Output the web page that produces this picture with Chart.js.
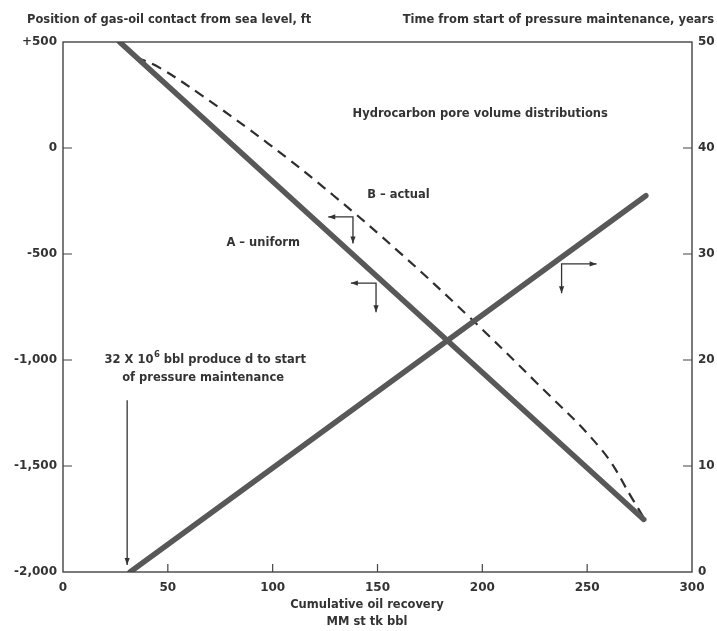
<!DOCTYPE html>
<html><head><meta charset="utf-8">
<script src="https://cdn.jsdelivr.net/npm/chart.js@4"></script>
<style>html,body{margin:0;padding:0;background:#fff}#wrap{width:717px;height:631px}</style>
</head><body><div id="wrap"><canvas id="c" width="717" height="631"></canvas></div>
<script>
// ---- data ----
const recoveryA = [27, 277];
const contactA  = [500, -1752];
const recoveryB = [35, 46, 66, 98, 129, 161, 193, 225, 257, 272, 277];
const contactB  = [428, 379, 249, 20, -224, -497, -790, -1099, -1425, -1662, -1745];
const recoveryT = [32, 278];
const timeT     = [0, 35.5];
const xTicks = [0, 50, 100, 150, 200, 250, 300];
const leftTicks = [500, 0, -500, -1000, -1500, -2000];
const leftTickLabels = ['+500', '0', '-500', '-1,000', '-1,500', '-2,000'];
const rightTicks = [0, 10, 20, 30, 40, 50];

const FONT = "'DejaVu Sans', 'Noto Sans', sans-serif";
const TXT = "bold 11.5px " + FONT;
const INK = '#333333';

function pts(xs, ys){ return xs.map((x,i)=>({x:x, y:ys[i]})); }

// annotation texts positioned in data units (left axis)
const notes = [
  {text:'Hydrocarbon pore volume distributions', x:199, y:160, align:'center'},
  {text:'B \u2013 actual', x:160, y:-222, align:'center'},
  {text:'A \u2013 uniform', x:95.5, y:-448, align:'center'},
  {text:'of pressure maintenance', x:28.2, y:-1085, align:'left'}
];
const cornerArrows = [ // corner, horizontal end, vertical end
  {cx:138.3, cy:-325, hx:126.5, vy:-450},
  {cx:149.3, cy:-637, hx:137.3, vy:-775},
  {cx:237.8, cy:-547, hx:254.5, vy:-685}
];
const downArrow = {x:30.6, y0:-1190, y1:-1967};

function arrowHead(ctx, x, y, dir){
  ctx.beginPath();
  const L=7, W=2.6;
  if(dir==='left'){ctx.moveTo(x,y);ctx.lineTo(x+L,y-W);ctx.lineTo(x+L,y+W);}
  if(dir==='right'){ctx.moveTo(x,y);ctx.lineTo(x-L,y-W);ctx.lineTo(x-L,y+W);}
  if(dir==='down'){ctx.moveTo(x,y);ctx.lineTo(x-W,y-L);ctx.lineTo(x+W,y-L);}
  ctx.closePath(); ctx.fill();
}

const decor = {
  id:'decor',
  afterDraw(chart){
    const {ctx, chartArea:a, scales} = chart;
    const xs = scales.x, ys = scales.y, y2 = scales.y2;
    ctx.save();
    ctx.strokeStyle = '#444'; ctx.fillStyle = INK; ctx.lineWidth = 1.4;
    ctx.strokeRect(a.left, a.top, a.right-a.left, a.bottom-a.top);
    ctx.lineWidth = 1.2;
    ctx.beginPath();
    xTicks.forEach(v=>{const p=xs.getPixelForValue(v); if(v>0&&v<300){ctx.moveTo(p,a.bottom);ctx.lineTo(p,a.bottom-8);}});
    leftTicks.forEach(v=>{const p=ys.getPixelForValue(v); if(v<500&&v>-2000){ctx.moveTo(a.left,p);ctx.lineTo(a.left+9,p);}});
    rightTicks.forEach(v=>{const p=y2.getPixelForValue(v); if(v>0&&v<50){ctx.moveTo(a.right,p);ctx.lineTo(a.right-9,p);}});
    ctx.stroke();
    ctx.textBaseline='middle';
    ctx.font = TXT;
    ctx.textAlign='left'; ctx.fillText('Position of gas-oil contact from sea level, ft', 27, 20);
    ctx.textAlign='right'; ctx.fillText('Time from start of pressure maintenance, years', 714, 20);
    ctx.textAlign='center';
    ctx.fillText('Cumulative oil recovery', 367, 605);
    ctx.fillText('MM st tk bbl', 367, 622);
    notes.forEach(n=>{
      ctx.textAlign=n.align;
      ctx.fillText(n.text, xs.getPixelForValue(n.x), ys.getPixelForValue(n.y));
    });
    // first line with superscript
    const s1='32 X 10', s2='6', s3=' bbl produce d to start';
    ctx.textAlign='left';
    let px = xs.getPixelForValue(19.8), py = ys.getPixelForValue(-1000);
    ctx.fillText(s1, px, py); px += ctx.measureText(s1).width + 0.5;
    ctx.font = "bold 8.5px " + FONT;
    ctx.fillText(s2, px, py-5); px += ctx.measureText(s2).width;
    ctx.font = TXT;
    ctx.fillText(s3, px, py);
    // arrows
    ctx.lineWidth = 1.3; ctx.strokeStyle='#333'; ctx.fillStyle='#333';
    cornerArrows.forEach(c=>{
      const cx=xs.getPixelForValue(c.cx), cy=ys.getPixelForValue(c.cy);
      const hx=xs.getPixelForValue(c.hx), vy=ys.getPixelForValue(c.vy);
      ctx.beginPath(); ctx.moveTo(hx,cy); ctx.lineTo(cx,cy); ctx.lineTo(cx,vy); ctx.stroke();
      arrowHead(ctx, hx, cy, hx<cx?'left':'right');
      arrowHead(ctx, cx, vy, 'down');
    });
    const dx=xs.getPixelForValue(downArrow.x);
    ctx.beginPath(); ctx.moveTo(dx, ys.getPixelForValue(downArrow.y0)); ctx.lineTo(dx, ys.getPixelForValue(downArrow.y1)); ctx.stroke();
    arrowHead(ctx, dx, ys.getPixelForValue(downArrow.y1), 'down');
    ctx.restore();
  }
};

const tickFont = {family: FONT, size: 12, weight: 'bold'};

new Chart(document.getElementById('c'), {
  type:'line',
  data:{datasets:[
    {label:'B - actual', data:pts(recoveryB, contactB), yAxisID:'y', borderColor:'#2e2e2e', borderWidth:2.2,
     borderDash:[10,7], pointRadius:0, tension:0.4, fill:false, order:3},
    {label:'A - uniform', data:pts(recoveryA, contactA), yAxisID:'y', borderColor:'#585858', borderWidth:5.5,
     borderCapStyle:'round', pointRadius:0, fill:false, order:2},
    {label:'Time', data:pts(recoveryT, timeT), yAxisID:'y2', borderColor:'#585858', borderWidth:5.5,
     borderCapStyle:'round', pointRadius:0, fill:false, order:1}
  ]},
  options:{
    responsive:false, animation:false, devicePixelRatio:1,
    layout:{padding:{top:42,left:0,right:0,bottom:0}},
    plugins:{legend:{display:false}, tooltip:{enabled:false}},
    scales:{
      x:{type:'linear', position:'bottom', min:0, max:300,
         afterBuildTicks:s=>{s.ticks = xTicks.map(v=>({value:v}));},
         afterFit:s=>{s.height=59;},
         grid:{display:false, drawTicks:false}, border:{display:false},
         ticks:{padding:9, color:INK, font:tickFont, maxRotation:0, autoSkip:false, callback:v=>String(v)}},
      y:{type:'linear', position:'left', min:-2000, max:500,
         afterBuildTicks:s=>{s.ticks = leftTicks.map(v=>({value:v}));},
         afterFit:s=>{s.width=63;},
         grid:{display:false, drawTicks:false}, border:{display:false},
         ticks:{padding:6, color:INK, font:tickFont, autoSkip:false,
           callback:v=>leftTickLabels[leftTicks.indexOf(v)]}},
      y2:{type:'linear', position:'right', min:0, max:50,
         afterBuildTicks:s=>{s.ticks = rightTicks.map(v=>({value:v}));},
         afterFit:s=>{s.width=25;},
         grid:{display:false, drawTicks:false}, border:{display:false},
         ticks:{padding:6, color:INK, font:tickFont, autoSkip:false, callback:v=>String(v)}}
    }
  },
  plugins:[decor]
});
</script></body></html>
